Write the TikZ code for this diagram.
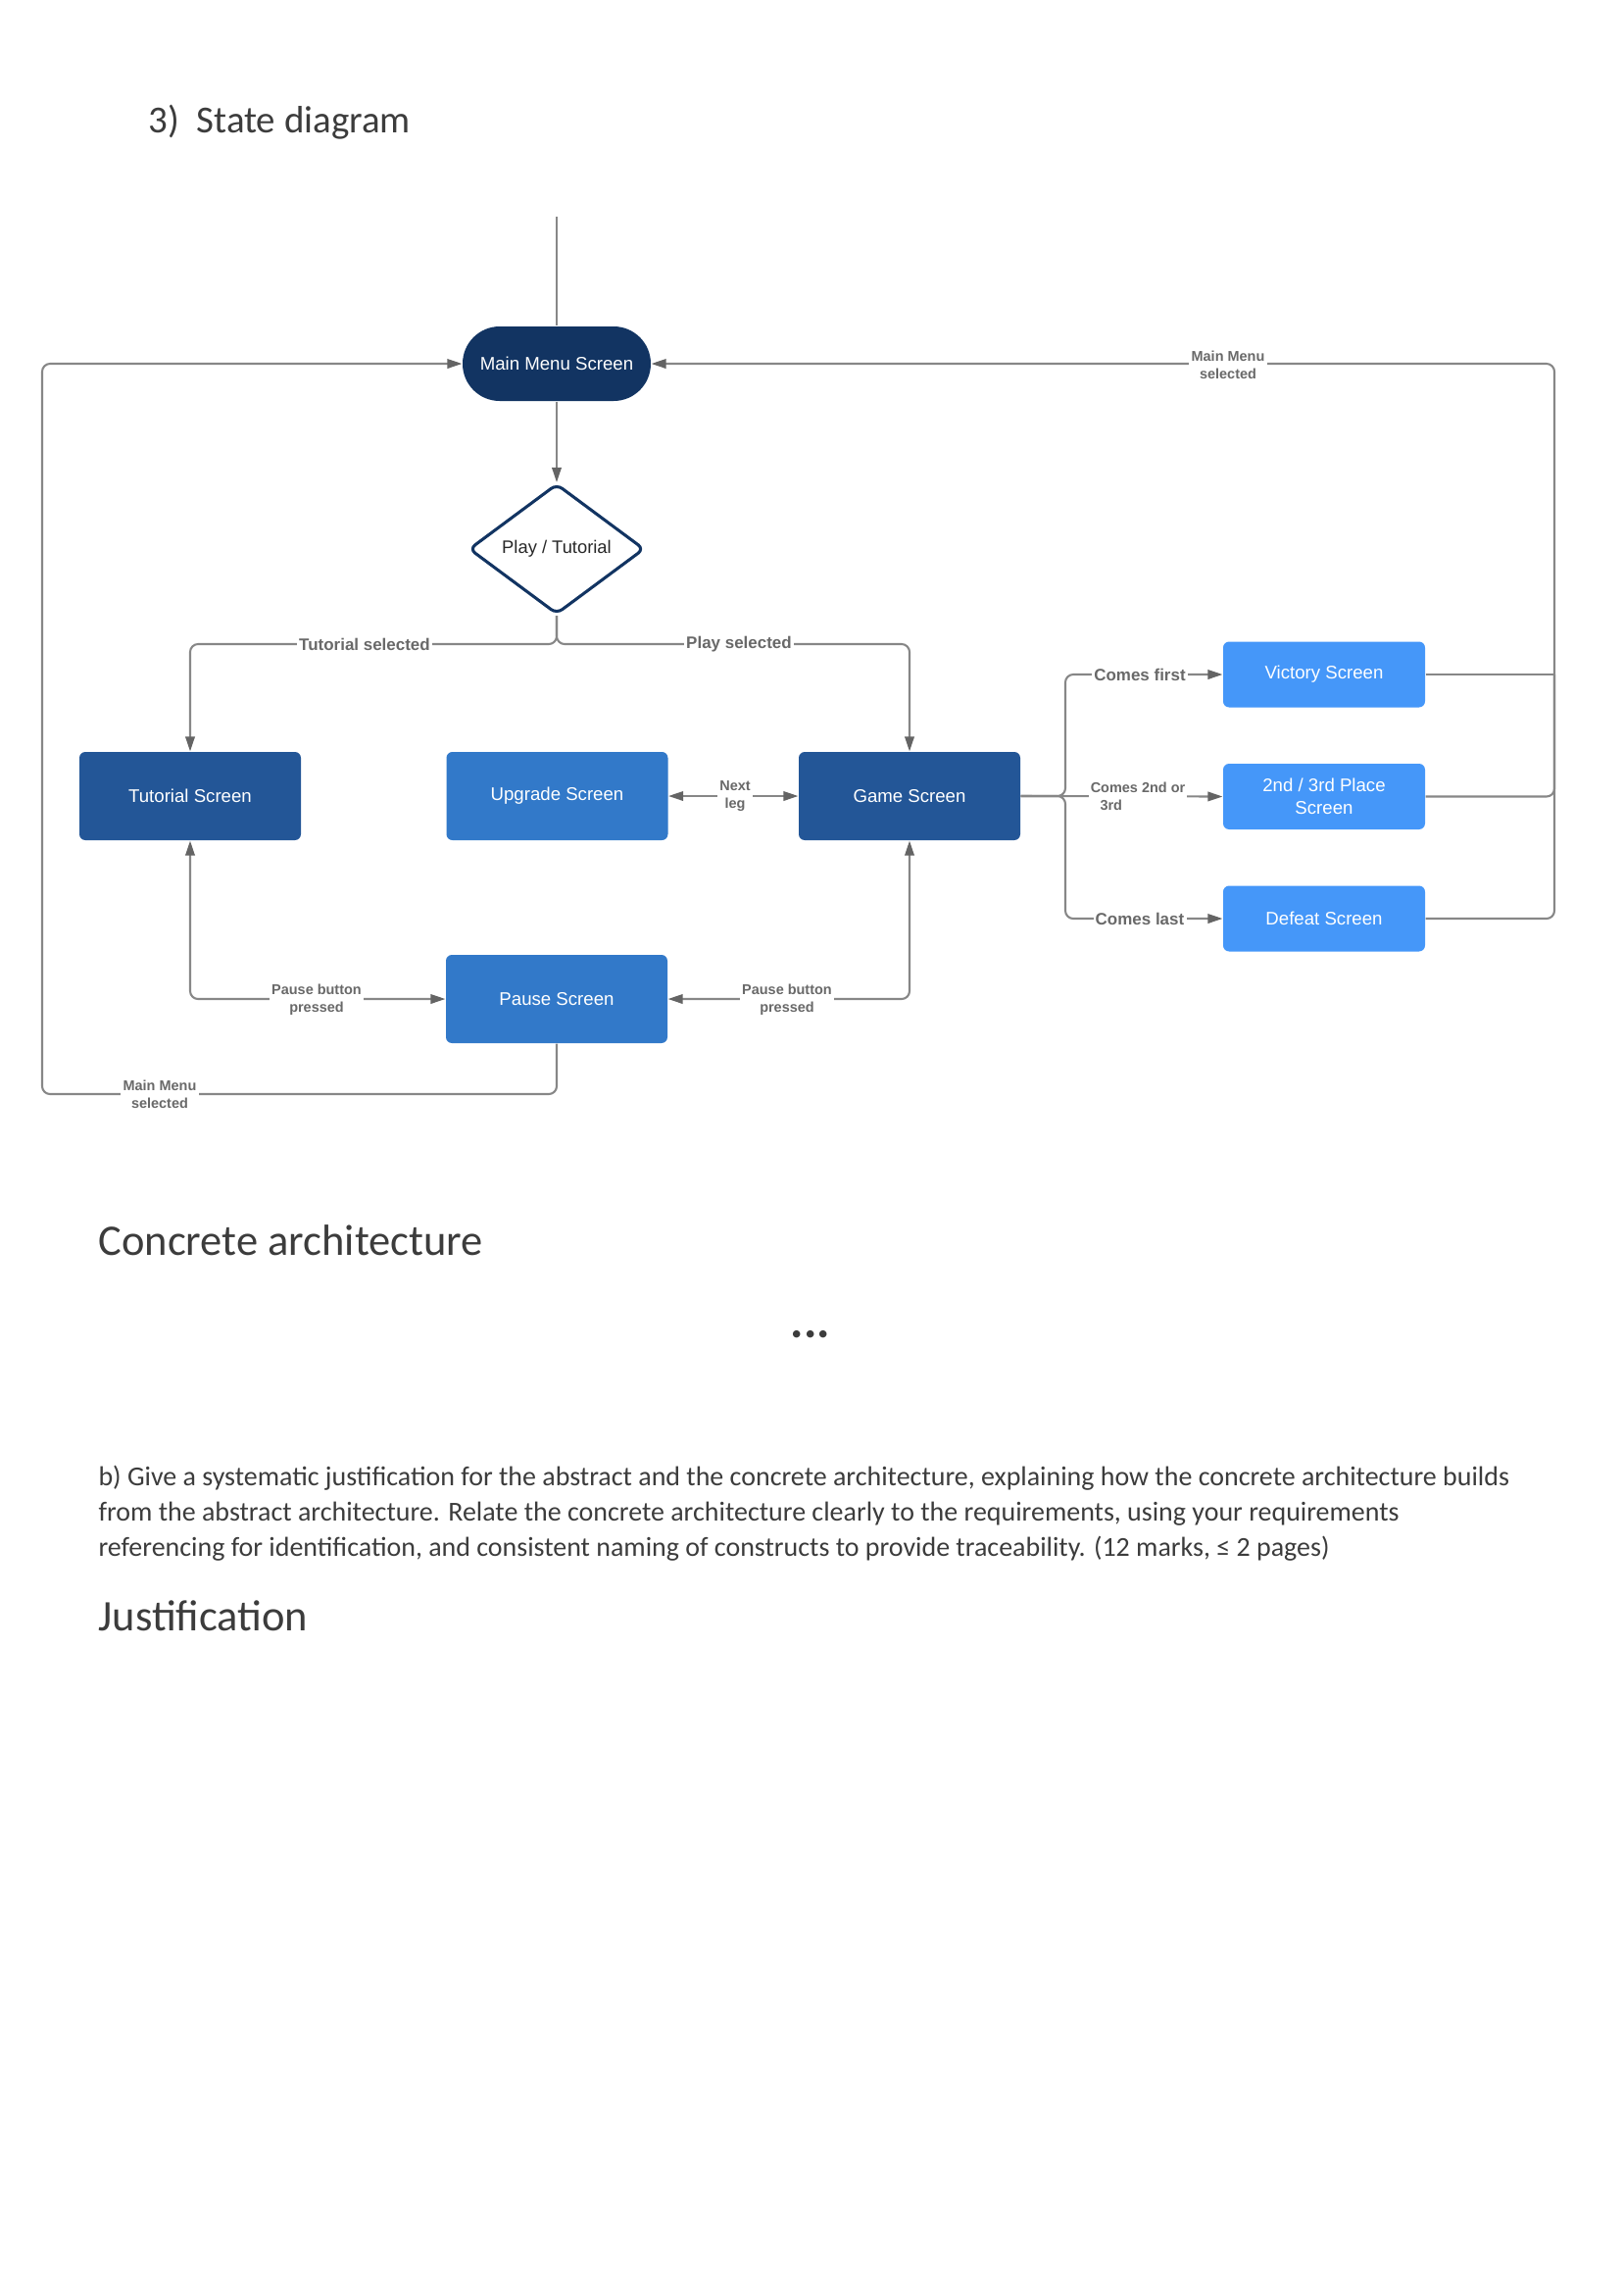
\documentclass[tikz,border=0pt]{standalone}
\usepackage{fontspec}
\setmainfont{Carlito}
\newfontfamily\arialfont{Liberation Sans}
\usetikzlibrary{shapes.geometric,arrows.meta}
\newcommand\pxu{0.3595pt}
\definecolor{navy}{RGB}{18,52,98}
\definecolor{midblue}{RGB}{35,86,151}
\definecolor{stdblue}{RGB}{50,121,201}
\definecolor{lightblue}{RGB}{69,151,249}
\definecolor{wirecol}{RGB}{135,135,135}
\definecolor{tipcol}{RGB}{100,100,100}
\definecolor{labelgray}{RGB}{105,105,105}
\definecolor{doctext}{RGB}{60,60,60}
\tikzset{
  state/.style={rectangle, rounded corners=2.2pt, text=white, inner sep=0pt, align=center,
    font=\arialfont\fontsize{6.7pt}{8.2pt}\selectfont},
  bigstate/.style={state, minimum width=226*\pxu, minimum height=90*\pxu},
  smallstate/.style={state, fill=lightblue, minimum width=206*\pxu, minimum height=67*\pxu},
  wire/.style={draw=wirecol, line width=0.75pt, rounded corners=2.9pt},
  >={Triangle[length=5.4pt,width=3.4pt,color=tipcol]},
  lbl/.style={fill=white, text=labelgray, inner sep=0.8pt, align=center,
    font=\arialfont\bfseries\fontsize{6.1pt}{7pt}\selectfont},
  slbl/.style={lbl, font=\arialfont\bfseries\fontsize{5.2pt}{6.5pt}\selectfont},
  doc/.style={anchor=base west, inner sep=0pt, text=doctext},
  body/.style={doc, font=\fontsize{10.05pt}{12pt}\selectfont},
}
\begin{document}
\begin{tikzpicture}[x=\pxu, y=-\pxu]
\useasboundingbox (0,0) rectangle (1656,2342);

% headings and body text
\node[doc, font=\fontsize{14pt}{17pt}\selectfont] (num) at (151,135) {3)};
\node[doc, font=\fontsize{14pt}{17pt}\selectfont] (title) at (200,135) {State diagram};
\node[doc, font=\fontsize{16pt}{19pt}\selectfont] (h1) at (100,1280) {Concrete architecture};
\node[doc, anchor=base, font=\bfseries\fontsize{18pt}{21pt}\selectfont] (dots) at (827,1364) {...};
\node[body] (p1) at (100,1515) {b) Give a systematic justification for the abstract and the concrete architecture, explaining how the concrete architecture builds};
\node[body] (p2) at (100,1551) {from the abstract architecture. Relate the concrete architecture clearly to the requirements, using your requirements};
\node[body] (p3) at (100,1587) {referencing for identification, and consistent naming of constructs to provide traceability. (12 marks, ≤ 2 pages)};
\node[doc, font=\fontsize{16pt}{19pt}\selectfont] (h2) at (100,1663) {Justification};

% states
\coordinate (start) at (568,221);
\node[state, fill=navy, minimum width=192*\pxu, minimum height=76*\pxu, rounded corners=13.6pt] (mm) at (568,371) {Main Menu Screen};
\node[diamond, draw=navy, line width=1.1pt, fill=white, rounded corners=2.5pt, inner sep=0pt,
      minimum width=179*\pxu, minimum height=133*\pxu, aspect=1.35, text={rgb,255:red,40;green,40;blue,40},
      font=\arialfont\fontsize{6.6pt}{8pt}\selectfont] (dia) at (568,560) {Play / Tutorial};
\node[bigstate, fill=midblue] (tut) at (194,812) {Tutorial Screen};
\node[bigstate, fill=stdblue] (upg) at (568.5,812) {Upgrade Screen};
\node[bigstate, fill=midblue] (game) at (928,812) {Game Screen};
\node[bigstate, fill=stdblue] (pause) at (568,1019) {Pause Screen};
\node[smallstate] (vic) at (1351,688) {Victory Screen};
\node[smallstate] (second) at (1351,812.5) {2nd / 3rd Place\\Screen};
\node[smallstate] (defeat) at (1351,937) {Defeat Screen};

% routing points
\coordinate (split) at (568,657);
\coordinate (fork) at (1087,812);
\coordinate (lb) at (43,1116);
\coordinate (rt) at (1586,937);

% transitions
\draw[wire] (start) -- (mm.north);
\draw[wire,->] (mm.south) -- (dia.north);
\draw[wire,->] (dia.south) -- (split) -| (tut.north);
\draw[wire,->] (dia.south) -- (split) -| (game.north);
\draw[wire,<->] (upg.east) -- (game.west);
\draw[wire,<->] (tut.south) |- (pause.west);
\draw[wire,<->] (game.south) |- (pause.east);
\draw[wire,->] (pause.south) |- (lb) |- (mm.west);
\draw[wire,->] (game.east) -- (fork) |- (vic.west);
\draw[wire,->] (game.east) -- (second.west);
\draw[wire,->] (game.east) -- (fork) |- (defeat.west);
\draw[wire,->] (defeat.east) -- (rt) |- (mm.east);
\draw[wire] (vic.east) -- (vic.east -| rt);
\draw[wire] (second.east) -| (vic.east -| rt);

% transition labels
\node[slbl] (lmmr) at (1253,372) {Main Menu\\selected};
\node[lbl] (ltut) at (372,657) {Tutorial selected};
\node[lbl] (lplay) at (754,657) {Play selected};
\node[slbl] (lnext) at (750,812) {Next\\leg};
\node[slbl] (lpl) at (323,1020) {Pause button\\pressed};
\node[slbl] (lpr) at (803,1020) {Pause button\\pressed};
\node[slbl] (lmml) at (163,1116) {Main Menu\\selected};
\node[lbl] (lfirst) at (1163,688) {Comes first};
\node[slbl, anchor=west, align=left] (lmid) at (1110,812) {Comes 2nd or\\\hspace*{3.5pt}3rd};
\node[lbl] (llast) at (1163,937) {Comes last};
\end{tikzpicture}
\end{document}
